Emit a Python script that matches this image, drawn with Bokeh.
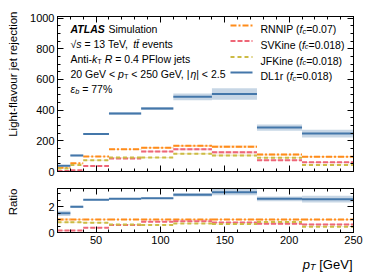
import math
from bokeh.plotting import figure
from bokeh.models import Label, Range1d, LinearAxis, SingleIntervalTicker, Arrow
from bokeh.layouts import column, row
from bokeh.embed import file_html
from bokeh.resources import INLINE

# ---------------- data ----------------
edges = [20, 30, 40, 60, 85, 110, 140, 175, 210, 250]
dl1r = [37, 105, 245, 378, 410, 487, 505, 286, 247]
dl1r_err = [5, 5, 6, 8, 10, 22, 38, 20, 25]
rnnip = [25, 53, 97, 145, 155, 167, 162, 110, 96]
rnnip_err = [2, 2, 3, 4, 5, 6, 7, 5, 5]
svkine = [4, 8, 36, 84, 130, 145, 125, 74, 60]
svkine_err = [1, 1, 2, 3, 5, 6, 7, 4, 4]
jfkine = [20, 42, 73, 91, 91, 115, 105, 90, 43]
jfkine_err = [1, 2, 3, 3, 4, 5, 6, 4, 3]

names = ["RNNIP", "SVKine", "JFKine", "DL1r"]
fcs = ["0.07", "0.018", "0.018", "0.018"]
values = [rnnip, svkine, jfkine, dl1r]
errors = [rnnip_err, svkine_err, jfkine_err, dl1r_err]
colors = ["#FF8C1A", "#EE6677", "#CCBB44", "#4477AA"]
dashes = ["6 2 2 2", "5 2", "4 3", "solid"]

FONT = "Liberation Sans"
left = edges[:-1]
right = edges[1:]

# Arial / Liberation Sans advance widths (1/1000 em)
W = {' ': 278, '(': 333, ')': 333, '%': 889, ',': 278, '-': 333, '.': 278, '<': 584, '=': 584,
     '|': 260, '[': 278, ']': 278, '\u221a': 549, '\u03b7': 556, '\u03b5': 446, '\u0304': 0,
     'A': 667, 'D': 722, 'F': 611, 'G': 778, 'I': 278, 'J': 500, 'K': 667, 'L': 556, 'N': 722,
     'P': 667, 'R': 722, 'S': 667, 'T': 611, 'V': 667,
     'a': 556, 'b': 556, 'c': 500, 'e': 556, 'f': 278, 'i': 222, 'j': 222, 'k': 500, 'l': 222,
     'm': 833, 'n': 556, 'o': 556, 'p': 556, 'r': 333, 's': 500, 't': 278, 'u': 556, 'v': 500,
     'w': 722}
WB = {'A': 722, 'T': 611, 'L': 611, 'S': 667}

SL = 20  # width of the left title strip


def tw(s, size, bold=False):
    tot = 0
    for ch in s:
        if ch.isdigit():
            tot += 556
        elif bold and ch in WB:
            tot += WB[ch]
        else:
            tot += W.get(ch, 556)
    return tot * size / 1000.0


def rich(p, x, y, runs, size, align="left"):
    """runs: (text, style, sub). x,y: frame-relative screen px, y = baseline."""
    widths = []
    for text, style, sub in runs:
        fs = size * (0.7 if sub else 1.0)
        widths.append(tw(text, fs, "bold" in style))
    total = sum(widths)
    cx = x - total if align == "right" else x
    for (text, style, sub), w in zip(runs, widths):
        fs = size * (0.7 if sub else 1.0)
        dy = -0.22 * size if sub else 0
        stripped = text.lstrip(" ")
        lead = tw(text[:len(text) - len(stripped)], fs)
        if stripped.strip():
            p.add_layout(Label(x=cx + lead, y=y + dy, x_units="screen", y_units="screen",
                               text=stripped.rstrip(" "), text_font=FONT,
                               text_font_size=f"{fs:.2f}px", text_font_style=style,
                               text_color="black", text_align="left",
                               text_baseline="alphabetic"))
        cx += w
    return total


def make_axis(ticker, show_labels):
    ax = LinearAxis(ticker=ticker, axis_label=None)
    ax.axis_line_color = "black"
    ax.axis_line_width = 1
    ax.major_tick_in = 6
    ax.major_tick_out = 0
    ax.minor_tick_in = 3
    ax.minor_tick_out = 0
    ax.major_tick_line_color = "black"
    ax.minor_tick_line_color = "black"
    ax.major_label_text_font = FONT
    if show_labels:
        ax.major_label_text_font_size = "11px"
        ax.major_label_text_color = "black"
        ax.major_label_standoff = 3
    else:
        ax.major_label_text_font_size = "1px"
        ax.major_label_text_color = None
        ax.major_label_standoff = 0
    return ax


def panel(frame_h, yrange, xrange, yticker, show_x, b_top, b_bottom):
    p = figure(frame_width=296, frame_height=frame_h, output_backend="svg",
               toolbar_location=None, x_axis_type=None, y_axis_type=None,
               x_range=xrange, y_range=yrange,
               min_border_left=57 - SL, min_border_right=13,
               min_border_top=b_top, min_border_bottom=b_bottom)
    xt = SingleIntervalTicker(interval=50, num_minor_ticks=5)
    p.add_layout(make_axis(xt, show_x), "below")
    p.add_layout(make_axis(xt, False), "above")
    p.add_layout(make_axis(yticker, True), "left")
    p.add_layout(make_axis(yticker, False), "right")
    p.outline_line_color = "black"
    return p


def strip(w, h):
    s = figure(width=w, height=h, x_axis_type=None, y_axis_type=None, output_backend="svg",
               toolbar_location=None, min_border=0, x_range=Range1d(0, 1), y_range=Range1d(0, 1))
    s.outline_line_color = None
    return s


# ---------------- main panel ----------------
p1 = panel(155, Range1d(0, 1010), Range1d(20, 250),
           SingleIntervalTicker(interval=200, num_minor_ticks=4), False, 16, 7)
for v, e, c in zip(values, errors, colors):
    lo = [a - b for a, b in zip(v, e)]
    hi = [a + b for a, b in zip(v, e)]
    p1.quad(left=left, right=right, bottom=lo, top=hi, fill_color=c, fill_alpha=0.3, line_color=None)
for v, c, d in zip(values, colors, dashes):
    p1.segment(x0=left, x1=right, y0=v, y1=v, line_color=c, line_width=2, line_dash=d)

# ---------------- ratio panel ----------------
p2 = panel(44, Range1d(0, 3.4), p1.x_range,
           SingleIntervalTicker(interval=2, num_minor_ticks=4), True, 10, 18)
for v, e, c in zip(values, errors, colors):
    r = [a / b for a, b in zip(v, rnnip)]
    re_ = [a / b for a, b in zip(e, rnnip)]
    p2.quad(left=left, right=right, bottom=[a - b for a, b in zip(r, re_)],
            top=[a + b for a, b in zip(r, re_)], fill_color=c, fill_alpha=0.3, line_color=None)
for v, c, d in zip(values, colors, dashes):
    r = [a / b for a, b in zip(v, rnnip)]
    p2.segment(x0=left, x1=right, y0=r, y1=r, line_color=c, line_width=2, line_dash=d)

# ---------------- texts in the main frame ----------------
FS = 10.5
X0 = 70 - 57
lines = [
    [("ATLAS", "bold italic", False), (" Simulation", "normal", False)],
    [("\u221a", "normal", False), ("s", "italic", False), (" = 13 TeV, ", "normal", False),
     ("tt\u0304", "italic", False), (" events", "normal", False)],
    [("Anti-", "normal", False), ("k", "italic", False), ("T", "normal", True), (" ", "normal", False),
     ("R", "italic", False), (" = 0.4 PFlow jets", "normal", False)],
    [("20 GeV < ", "normal", False), ("p", "italic", False), ("T", "normal", True),
     (" < 250 GeV, |", "normal", False), ("\u03b7", "italic", False), ("| < 2.5", "normal", False)],
    [("\u03b5", "italic", False), ("b", "italic", True), (" = 77%", "normal", False)],
]
ycent = [25, 40, 55, 70, 85]
for runs, yc in zip(lines, ycent):
    rich(p1, X0, 171 - (yc + 0.35 * FS), runs, FS)

# legend
leg_y = [25, 40.5, 56.5, 72]
for n, f, c, d, yc in zip(names, fcs, colors, dashes, leg_y):
    ys = 171 - yc
    p1.add_layout(Arrow(x_start=230 - 57, y_start=ys, x_end=252 - 57, y_end=ys,
                        start_units="screen", end_units="screen", start=None, end=None,
                        line_color=c, line_width=2, line_dash=d))
    rich(p1, 260 - 57, ys - 0.35 * FS,
         [(n + " (", "normal", False), ("f", "italic", False), ("c", "italic", True),
          ("=" + f + ")", "normal", False)], FS)

# ---------------- title strips ----------------
STRIP_H = 28
TOTAL_H = 178 + 72 + STRIP_H
left_strip = strip(SL, TOTAL_H)
for text, top in [("Light-flavour jet rejection", 11), ("Ratio", 188)]:
    left_strip.add_layout(Label(x=12, y=TOTAL_H - top, x_units="screen", y_units="screen",
                                text=text, angle=math.pi / 2, text_font=FONT,
                                text_font_size="11.5px", text_align="right",
                                text_baseline="middle", text_color="black"))

# the strip's frame is aligned with the panels' frames (page x 57 .. 353)
bottom_strip = strip(366 - SL, STRIP_H)
rich(bottom_strip, 295, TOTAL_H - 264, [("p", "italic", False), ("T", "italic", True),
                                        (" [GeV]", "normal", False)], 13, align="right")

layout = row(left_strip, column(p1, p2, bottom_strip))
open("out.html", "w").write(file_html(layout, INLINE))
